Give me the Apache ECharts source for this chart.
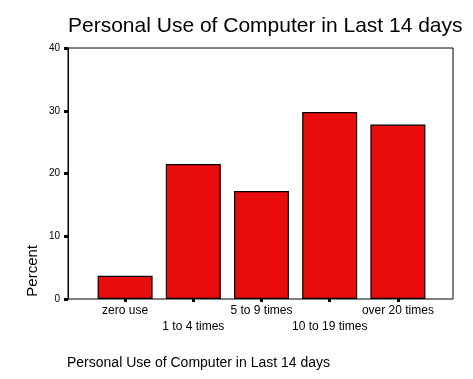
<!DOCTYPE html>
<html>
<head>
<meta charset="utf-8">
<script src="https://cdn.jsdelivr.net/npm/echarts@6/dist/echarts.min.js"></script>
<style>
html,body{margin:0;padding:0;background:#fff;}
#c{width:473px;height:379px;}
</style>
</head>
<body>
<div id="c"></div>
<script>
const chartTitle = 'Personal Use of Computer in Last 14 days';
const xAxisTitle = 'Personal Use of Computer in Last 14 days';
const yAxisTitle = 'Percent';
const categories = ['zero use', '1 to 4 times', '5 to 9 times', '10 to 19 times', 'over 20 times'];
const percents = [3.7, 21.5, 17.2, 29.8, 27.8];
const yMin = 0, yMax = 40, yStep = 10;

const FONT = 'Liberation Sans, Arial, sans-serif';
const chart = echarts.init(document.getElementById('c'), null, {renderer: 'canvas'});
chart.setOption({
  backgroundColor: '#fff',
  animation: false,
  title: [
    {text: chartTitle, left: 68, top: 16, padding: 0,
     textStyle: {fontFamily: FONT, fontSize: 21, fontWeight: 'normal', color: '#000'}},
    {text: xAxisTitle, left: 67, top: 356, padding: 0,
     textStyle: {fontFamily: FONT, fontSize: 14, fontWeight: 'normal', color: '#000'}}
  ],
  graphic: [
    {type: 'text', left: 25, top: 245, rotation: Math.PI / 2,
     style: {text: yAxisTitle, font: '15px ' + FONT, fill: '#000'}}
  ],
  grid: [
    {left: 68, right: 20, top: 48, bottom: 80, show: true, borderColor: '#000', borderWidth: 1, backgroundColor: 'transparent'},
    {left: 91, right: 41, top: 48, bottom: 80}
  ],
  xAxis: [
    {gridIndex: 0, type: 'value', min: 0, max: 1, show: false},
    {gridIndex: 1, type: 'category', data: categories,
     axisLine: {show: false},
     axisTick: {show: true, alignWithLabel: true, length: 3, lineStyle: {color: '#000', width: 3}},
     axisLabel: {interval: 0, margin: 4, fontFamily: FONT, fontSize: 12, color: '#000', lineHeight: 16,
       formatter: function (v, i) { return i % 2 === 1 ? '\n' + v : v; }}}
  ],
  yAxis: [
    {gridIndex: 0, type: 'value', min: yMin, max: yMax, interval: yStep,
     splitLine: {show: false},
     axisLine: {show: true, lineStyle: {color: '#000', width: 1}},
     axisTick: {show: true, length: 4, lineStyle: {color: '#000', width: 3}},
     axisLabel: {margin: 8, fontFamily: FONT, fontSize: 10, color: '#000'}},
    {gridIndex: 1, type: 'value', min: yMin, max: yMax, show: false}
  ],
  series: [
    {type: 'bar', xAxisIndex: 1, yAxisIndex: 1, data: percents, barWidth: 55,
     itemStyle: {color: '#e80c0c', borderColor: '#000', borderWidth: 1.2}}
  ]
});
</script>
</body>
</html>
